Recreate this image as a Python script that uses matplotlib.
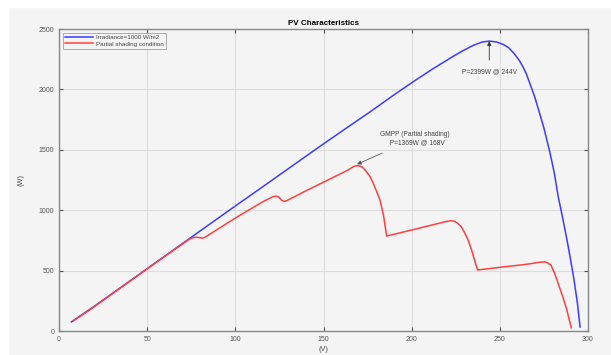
import matplotlib.pyplot as plt
from matplotlib.patches import Rectangle

# irradiance 1000 W/m2
v_full = [7, 20, 40, 60, 80, 100, 120, 145, 160, 176, 190, 201, 212, 222, 229, 235, 240,
          244, 248, 252, 255, 258, 261, 263, 265, 267, 269.5, 272, 275, 278.5, 281, 283,
          285.5, 288, 290, 292, 294, 295.5]
p_full = [75, 205, 412, 620, 828, 1035, 1240, 1498, 1650, 1810, 1955, 2065, 2170, 2260,
          2320, 2365, 2392, 2400, 2393, 2372, 2345, 2299, 2240, 2190, 2130, 2050, 1950,
          1830, 1680, 1471, 1300, 1120, 945, 760, 600, 430, 230, 33]

# partial shading
v_shade = [8, 18, 40, 60, 72, 74, 76, 78, 80, 81.5, 83, 100, 115, 119, 121, 123, 124.5,
           126, 127.5, 129, 140, 155, 164, 166, 168, 170, 172, 174, 176.4, 178, 180, 182,
           184, 185.8, 200, 215, 218, 220, 222, 224, 226, 228, 230, 232, 234, 236, 237.4,
           250, 265, 270, 273, 275.6, 277, 279, 281, 283, 286, 288, 290.5]
p_shade = [83, 180, 410, 618, 740, 760, 773, 776, 772, 768, 778, 935, 1065, 1095, 1110,
           1117, 1110, 1085, 1072, 1078, 1160, 1268, 1333, 1352, 1366, 1368, 1357, 1325,
           1277, 1230, 1160, 1084, 960, 786, 836, 890, 901, 908, 912, 910, 893, 865, 815,
           753, 670, 570, 505, 527, 552, 563, 570, 571, 565, 545, 480, 397, 270, 174, 27]

x_ticks = [0, 50, 100, 150, 200, 250, 300]
y_ticks = [0, 500, 1000, 1500, 2000, 2500]

plt.rcParams['font.family'] = ['Liberation Sans', 'DejaVu Sans']
bg = '#f4f4f4'

fig = plt.figure(figsize=(6.11, 3.55), dpi=100, facecolor=bg)
# white margin strips of the screenshot
fig.patches.append(Rectangle((0, 0), 8 / 611, 1, transform=fig.transFigure, color='white', zorder=0))
fig.patches.append(Rectangle((0, 1 - 7 / 355), 1, 7 / 355, transform=fig.transFigure, color='white', zorder=0))

ax = fig.add_axes([59 / 611, 24 / 355, 529 / 611, 302 / 355], facecolor=bg)

ax.plot(v_full, p_full, color='#3c3cff', lw=1.1, label='Irradiance=1000 W/m2')
ax.plot(v_shade, p_shade, color='#ff4040', lw=1.1, label='Partial shading condition')

ax.set_xlim(0, 300)
ax.set_ylim(0, 2500)
ax.set_xticks(x_ticks)
ax.set_yticks(y_ticks)
ax.tick_params(direction='in', top=True, right=True, labelsize=5, colors='#555555',
               length=3, width=0.8)
ax.grid(True, color='#dddddd', lw=0.8)
for s in ax.spines.values():
    s.set_color('#888888')
    s.set_linewidth(1.0)

ax.set_title('PV Characteristics', fontsize=5.8, fontweight='bold', pad=3)
ax.set_xlabel('(V)', fontsize=5.3, color='#444444', labelpad=2)
ax.set_ylabel('(W)', fontsize=5.3, color='#444444', labelpad=10)

ax.annotate('P=2399W @ 244V', xy=(244, 2399), xytext=(244, 2145), fontsize=4.8,
            ha='center', va='center', color='#444444',
            arrowprops=dict(arrowstyle='-|>', color='#333333', lw=0.6, mutation_scale=6,
                            shrinkA=4, shrinkB=0))
ax.annotate('GMPP (Partial shading)\n  P=1369W @ 168V', xy=(169, 1380), xytext=(202, 1595),
            fontsize=4.8, ha='center', va='center', color='#444444', linespacing=1.2,
            arrowprops=dict(arrowstyle='-|>', color='#555555', lw=0.6, mutation_scale=6,
                            shrinkA=8, shrinkB=0))

leg = ax.legend(loc='upper left', fontsize=4.5, frameon=True, fancybox=False,
                edgecolor='#999999', facecolor=bg, borderpad=0.3, labelspacing=0.2,
                handlelength=4.5, handletextpad=0.5, borderaxespad=0.6)
leg.get_frame().set_linewidth(0.7)
for t in leg.get_texts():
    t.set_color('#444444')

fig.savefig('out.png', dpi=100, facecolor=fig.get_facecolor())
